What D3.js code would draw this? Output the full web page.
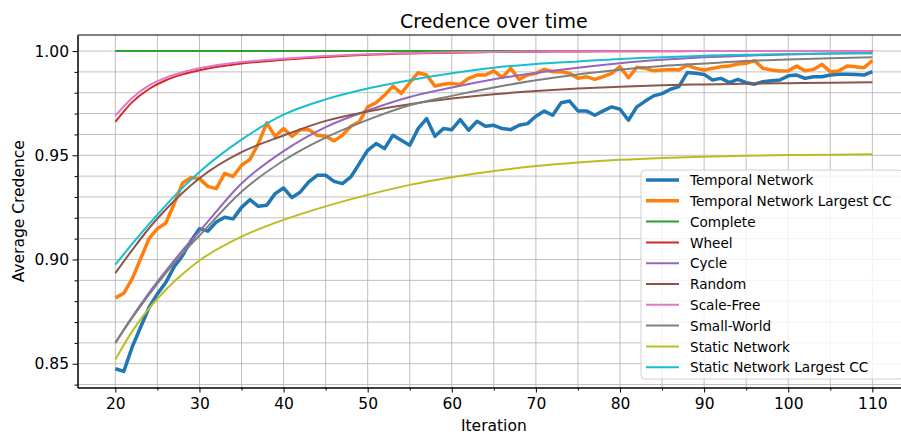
<!DOCTYPE html>
<html>
<head>
<meta charset="utf-8">
<script src="https://cdn.jsdelivr.net/npm/d3@7"></script>
<style>
  body { margin: 0; background: #fff; }
  text { font-family: "DejaVu Sans", sans-serif; fill: #000; }
</style>
</head>
<body>
<svg id="chart" width="901" height="436"></svg>
<script>
// iterations for the two measured (noisy) series
var iterations = d3.range(20, 111);
var smoothIters = [20, 22, 24, 26, 28, 30, 35, 40, 45, 50, 55, 60, 65, 70, 75, 80, 85, 90, 95, 100, 105, 110];

var temporal = [0.8476, 0.8463, 0.858, 0.8675, 0.877, 0.8835, 0.889, 0.8966, 0.902, 0.909,
    0.9148, 0.9136, 0.918, 0.9203, 0.9195, 0.925, 0.9287, 0.9255, 0.926, 0.9316,
    0.9343, 0.9297, 0.9324, 0.9372, 0.9404, 0.9404, 0.9375, 0.9364, 0.9396, 0.946,
    0.9524, 0.9556, 0.9532, 0.9596, 0.9572, 0.9548, 0.9628, 0.9676, 0.9591, 0.9628,
    0.9623, 0.9671, 0.962, 0.9663, 0.9639, 0.9644, 0.9628, 0.9623, 0.9644, 0.9652,
    0.9687, 0.9712, 0.9692, 0.9752, 0.976, 0.9713, 0.9713, 0.9692, 0.9713, 0.9732,
    0.9721, 0.9668, 0.9732, 0.976, 0.9785, 0.9796, 0.9817, 0.9829, 0.9897, 0.9893,
    0.9888, 0.9861, 0.9869, 0.9849, 0.9864, 0.9848, 0.9841, 0.9853, 0.9857, 0.9861,
    0.9881, 0.9885, 0.9869, 0.9877, 0.9877, 0.9885, 0.9889, 0.9889, 0.9888, 0.9885,
    0.9901];
var temporalLcc = [0.8816, 0.8838, 0.8907, 0.9003, 0.91, 0.9148, 0.9175, 0.9268, 0.9367, 0.9393,
    0.9388, 0.9351, 0.934, 0.9413, 0.9398, 0.9452, 0.948, 0.9556, 0.9655, 0.9591,
    0.9628, 0.9591, 0.9623, 0.9623, 0.9596, 0.9591, 0.9569, 0.9596, 0.9639, 0.966,
    0.9732, 0.9752, 0.9788, 0.9832, 0.9797, 0.9848, 0.9896, 0.9885, 0.9832, 0.9841,
    0.9845, 0.984, 0.9869, 0.9885, 0.9885, 0.9905, 0.9873, 0.9917, 0.9864, 0.9885,
    0.9893, 0.9912, 0.9901, 0.9901, 0.9893, 0.9869, 0.9877, 0.9864, 0.9877, 0.9893,
    0.9925, 0.9872, 0.9922, 0.9917, 0.9905, 0.9909, 0.9912, 0.9909, 0.9933, 0.9917,
    0.9909, 0.9917, 0.9925, 0.9928, 0.9938, 0.9941, 0.9954, 0.9917, 0.9909, 0.9904,
    0.9905, 0.9928, 0.9905, 0.9912, 0.9936, 0.9901, 0.9904, 0.9928, 0.9925, 0.992,
    0.9954];

var complete = [1, 1, 1, 1, 1, 1, 1, 1, 1, 1, 1, 1, 1, 1, 1, 1, 1, 1, 1, 1, 1, 1];
var wheel = [0.966, 0.9755, 0.9818, 0.986, 0.9888, 0.9908, 0.994, 0.9958, 0.9972, 0.9982, 0.9988,
    0.9992, 0.9995, 0.9997, 0.9998, 0.9999, 0.9999, 1, 1, 1, 1, 1];
var cycle = [0.86, 0.8725, 0.884, 0.8945, 0.9045, 0.9135, 0.9365, 0.952, 0.9635, 0.9715, 0.978,
    0.9825, 0.9865, 0.9895, 0.992, 0.9942, 0.9958, 0.997, 0.9978, 0.9984, 0.9988, 0.999];
var random = [0.8935, 0.9045, 0.915, 0.924, 0.932, 0.939, 0.9515, 0.9595, 0.9665, 0.971, 0.9745,
    0.9772, 0.9793, 0.9808, 0.982, 0.9829, 0.9836, 0.984, 0.9843, 0.9846, 0.9848, 0.985];
var scaleFree = [0.969, 0.9775, 0.9835, 0.9872, 0.9898, 0.9917, 0.9947, 0.9963, 0.9976, 0.9985, 0.999,
    0.9994, 0.9996, 0.9998, 0.9999, 0.9999, 1, 1, 1, 1, 1, 1];
var smallWorld = [0.86, 0.872, 0.8832, 0.8935, 0.903, 0.9115, 0.9325, 0.9475, 0.9585, 0.967, 0.974,
    0.9785, 0.9825, 0.986, 0.9888, 0.991, 0.9928, 0.994, 0.9952, 0.996, 0.9966, 0.997];
var staticNet = [0.852, 0.8655, 0.8765, 0.8855, 0.893, 0.8995, 0.911, 0.919, 0.9255, 0.931, 0.9358,
    0.9395, 0.9425, 0.9448, 0.9465, 0.9478, 0.9487, 0.9493, 0.9498, 0.9501, 0.9503, 0.9505];
var staticLcc = [0.8975, 0.9075, 0.917, 0.926, 0.9345, 0.942, 0.9575, 0.9695, 0.9768, 0.982, 0.986,
    0.9893, 0.992, 0.9938, 0.995, 0.9962, 0.997, 0.9978, 0.9982, 0.9986, 0.9988, 0.999];

var seriesNames = ["Temporal Network", "Temporal Network Largest CC", "Complete", "Wheel", "Cycle",
    "Random", "Scale-Free", "Small-World", "Static Network", "Static Network Largest CC"];

var xTicks = [20, 30, 40, 50, 60, 70, 80, 90, 100, 110];
var xMinorTicks = [20, 25, 30, 35, 40, 45, 50, 55, 60, 65, 70, 75, 80, 85, 90, 95, 100, 105, 110];
var yTicks = [0.85, 0.90, 0.95, 1.00];
var yMinorTicks = [0.84, 0.85, 0.86, 0.87, 0.88, 0.89, 0.90, 0.91, 0.92, 0.93, 0.94, 0.95,
    0.96, 0.97, 0.98, 0.99, 1.00];

var svg = d3.select("#chart"), width = 901, height = 436;
var plotL = 77.5, plotR = 910.2, plotT = 35, plotB = 387.5;

var x = d3.scaleLinear().domain([15.5, 114.5]).range([plotL, plotR]);
var y = d3.scaleLinear().domain([0.8386, 1.0077]).range([plotB, plotT]);

svg.append("rect").attr("width", width).attr("height", height).attr("fill", "#fff");

// grid
var grid = svg.append("g").attr("stroke", "#b0b0b0").attr("stroke-width", 0.8);
grid.selectAll("line.gx").data(xMinorTicks).enter().append("line")
    .attr("x1", d => x(d)).attr("x2", d => x(d))
    .attr("y1", plotT).attr("y2", plotB);
grid.selectAll("line.gy").data(yMinorTicks).enter().append("line")
    .attr("x1", plotL).attr("x2", plotR)
    .attr("y1", d => y(d)).attr("y2", d => y(d));

// series
var colors = ["#1f77b4", "#ff7f0e", "#2ca02c", "#d62728", "#9467bd",
    "#8c564b", "#e377c2", "#7f7f7f", "#bcbd22", "#17becf"];
var widths = [3.5, 3.5, 2, 2, 2, 2, 2, 2, 2, 2];

var series = [
    iterations.map((it, i) => [it, temporal[i]]),
    iterations.map((it, i) => [it, temporalLcc[i]])
];
[complete, wheel, cycle, random, scaleFree, smallWorld, staticNet, staticLcc].forEach(function (arr) {
    series.push(smoothIters.map((it, i) => [it, arr[i]]));
});

var rawLine = d3.line().x(d => x(d[0])).y(d => y(d[1]));
var smoothLine = d3.line().x(d => x(d[0])).y(d => y(d[1])).curve(d3.curveMonotoneX);

svg.append("g")
    .selectAll("path")
    .data(series)
    .enter()
    .append("path")
    .attr("fill", "none")
    .attr("stroke", (d, i) => colors[i])
    .attr("stroke-width", (d, i) => widths[i])
    .attr("stroke-linejoin", "round")
    .attr("d", (d, i) => i < 2 ? rawLine(d) : smoothLine(d));

// axes
svg.append("g").attr("transform", "translate(0," + plotB + ")")
    .call(d3.axisBottom(x).tickValues(xTicks).tickSize(5).tickPadding(5).tickSizeOuter(0));
svg.append("g").attr("transform", "translate(0," + plotB + ")")
    .call(d3.axisBottom(x).tickValues(xMinorTicks.filter(d => d % 10 != 0)).tickSize(3).tickFormat("").tickSizeOuter(0));
svg.append("g").attr("transform", "translate(" + plotL + ",0)")
    .call(d3.axisLeft(y).tickValues(yTicks).tickFormat(d3.format(".2f")).tickSize(5).tickPadding(3.5).tickSizeOuter(0));
svg.append("g").attr("transform", "translate(" + plotL + ",0)")
    .call(d3.axisLeft(y).tickValues(yMinorTicks.filter(d => yTicks.indexOf(d) < 0)).tickSize(3).tickFormat("").tickSizeOuter(0));

svg.selectAll(".tick text").style("font-size", "15.5px").style("font-family", "DejaVu Sans");
svg.selectAll(".domain, .tick line").attr("stroke", "#000").attr("stroke-width", 1);
svg.append("line").attr("x1", plotL).attr("x2", plotR).attr("y1", plotT).attr("y2", plotT)
    .attr("stroke", "#000").attr("stroke-width", 1);

// labels
svg.append("text").text("Credence over time")
    .attr("x", (plotL + plotR) / 2).attr("y", 28)
    .attr("text-anchor", "middle").style("font-size", "19px");
svg.append("text").text("Iteration")
    .attr("x", (plotL + plotR) / 2).attr("y", 431)
    .attr("text-anchor", "middle").style("font-size", "15.5px");
svg.append("text").text("Average Credence")
    .attr("transform", "translate(24," + (plotT + plotB) / 2 + ") rotate(-90)")
    .attr("text-anchor", "middle").style("font-size", "15.5px");

// legend
var legend = svg.append("g");
legend.append("rect")
    .attr("x", 641).attr("y", 170).attr("width", 262).attr("height", 209).attr("rx", 4)
    .attr("fill", "#fff").attr("fill-opacity", 0.8)
    .attr("stroke", "#d0d0d0").attr("stroke-width", 1);
var items = legend.selectAll("g.item")
    .data(seriesNames)
    .enter()
    .append("g")
    .attr("transform", (d, i) => "translate(0," + (180 + i * 20.8) + ")");
items.append("line")
    .attr("x1", 646).attr("x2", 679).attr("y1", 0).attr("y2", 0)
    .attr("stroke", (d, i) => colors[i])
    .attr("stroke-width", (d, i) => widths[i]);
items.append("text").text(d => d)
    .attr("x", 690).attr("y", 5.2)
    .style("font-size", "13.6px");
</script>
</body>
</html>
